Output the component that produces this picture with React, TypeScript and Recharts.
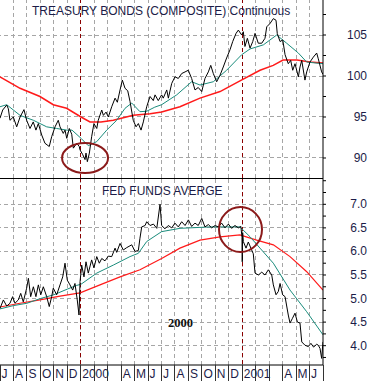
import React from 'react';
import { LineChart, Line, XAxis, YAxis, ReferenceLine, ReferenceDot } from 'recharts';

const INK = '#1c1c48';
const SANS = '"Liberation Sans", Arial, sans-serif';
const GRID = '#a6a6a6';

// month boundaries Jul 1999 .. Jun 2001, x = months since 1 Jul 1999
const monthTicks = [0, 1, 2, 3, 4, 5, 6, 7, 8, 9, 10, 11, 12, 13, 14, 15, 16, 17, 18, 19, 20, 21, 22, 23, 24];
const gridMonths = [1, 2, 3, 4, 5, 6, 7, 8, 9, 10, 11, 12, 13, 14, 15, 16, 17, 18, 19, 20, 21, 22, 23];
const monthLabels = ['J', 'A', 'S', 'O', 'N', 'D', '2000', '', '', 'A', 'M', 'J', 'J', 'A', 'S', 'O', 'N', 'D', '2001', '', '', 'A', 'M', 'J'];
const markerMonths = [6, 18];

const bondTicks = [90, 95, 100, 105];
const bondAxisTicks = [90, 92.5, 95, 97.5, 100, 102.5, 105, 107.5];
const fedTicks = [4.0, 4.5, 5.0, 5.5, 6.0, 6.5, 7.0];
const fedAxisTicks = [3.75, 4.0, 4.25, 4.5, 4.75, 5.0, 5.25, 5.5, 5.75, 6.0, 6.25, 6.5, 6.75, 7.0, 7.25, 7.5];

const bondPrice: [number, number][] = [
  [0, 94.85], [0.2, 95.85], [0.5, 96.46], [0.62, 96.0], [0.74, 94.6], [0.99, 95.0], [1.24, 93.8], [1.49, 95.0],
  [1.78, 95.9], [1.98, 94.6], [2.23, 93.6], [2.47, 94.4], [2.67, 93.4], [2.85, 94.2], [3.1, 92.8], [3.34, 91.8],
  [3.66, 91.4], [3.84, 92.6], [4.09, 93.8], [4.33, 94.6], [4.46, 93.8], [4.7, 93.0], [4.83, 93.4], [4.96, 92.4],
  [5.15, 93.6], [5.33, 92.9], [5.45, 91.2], [5.7, 91.8], [5.89, 91.4], [5.94, 91.0], [6.15, 90.4], [6.32, 89.8],
  [6.39, 90.6], [6.49, 89.55], [6.64, 90.6], [6.81, 92.6], [6.98, 94.2], [7.19, 93.6], [7.3, 94.6], [7.56, 95.85],
  [7.68, 95.2], [7.88, 95.6], [8.05, 95.0], [8.3, 96.25], [8.55, 97.3], [8.72, 96.8], [8.92, 98.3], [9.09, 99.5],
  [9.29, 98.5], [9.49, 98.2], [9.66, 96.9], [9.9, 94.6], [10.11, 93.8], [10.28, 94.2], [10.48, 93.4], [10.65, 94.4],
  [10.9, 96.25], [11.15, 97.5], [11.39, 97.0], [11.52, 97.7], [11.76, 97.0], [12.01, 97.7], [12.13, 97.3], [12.39, 98.3],
  [12.51, 97.3], [12.76, 99.1], [13.0, 99.9], [13.25, 99.7], [13.5, 100.3], [13.75, 100.5], [13.99, 100.7], [14.24, 99.7],
  [14.49, 98.3], [14.73, 98.6], [14.99, 98.1], [15.23, 99.7], [15.48, 100.5], [15.66, 101.3], [15.85, 100.3], [16.1, 99.3],
  [16.35, 100.1], [16.59, 101.1], [16.84, 102.2], [17.09, 103.2], [17.29, 104.2], [17.54, 105.2], [17.71, 105.6], [17.96, 105.0],
  [18.08, 105.4], [18.2, 103.6], [18.38, 104.6], [18.58, 103.4], [18.78, 104.2], [18.95, 105.2], [19.19, 104.0], [19.45, 104.0],
  [19.69, 104.6], [19.82, 106.0], [20.06, 106.4], [20.31, 107.0], [20.51, 106.8], [20.6, 105.2], [20.81, 104.2], [21.01, 104.4],
  [21.18, 102.6], [21.42, 101.5], [21.6, 101.9], [21.75, 100.7], [21.92, 101.5], [22.17, 99.9], [22.29, 101.1], [22.42, 101.9],
  [22.66, 99.5], [22.79, 100.5], [23.03, 101.7], [23.28, 102.3], [23.53, 102.8], [23.65, 102.1], [23.9, 100.5], [24, 100.2],
];

const bondShortAvg: [number, number][] = [
  [0, 96.25], [0.5, 96.5], [1.49, 95.2], [2.48, 94.6], [3.47, 93.8], [4.21, 93.6], [4.96, 93.4], [5.35, 93.4],
  [6.02, 92.4], [6.56, 91.5], [7.19, 92.0], [7.93, 93.4], [8.67, 94.6], [9.29, 96.06], [9.79, 96.7], [10.4, 95.65],
  [10.9, 95.7], [11.5, 96.2], [12.01, 96.5], [13.13, 97.7], [14.24, 99.3], [14.86, 98.9], [15.85, 99.3], [16.84, 100.7],
  [17.96, 102.6], [18.58, 103.3], [19.57, 103.8], [20.56, 105.0], [21.3, 104.0], [22.17, 102.8], [22.79, 101.7], [24, 101.5],
];

const bondLongAvg: [number, number][] = [
  [0, 99.9], [1.49, 98.5], [2.97, 97.5], [3.96, 96.5], [4.95, 96.06], [6.02, 95.0], [6.69, 94.4], [7.5, 94.4],
  [8.42, 94.6], [9.9, 95.2], [11.15, 95.4], [12.01, 95.6], [13.37, 96.26], [14.86, 97.3], [16.35, 98.1], [17.83, 99.4],
  [19.32, 100.7], [20.3, 101.3], [21.03, 101.95], [22.07, 101.95], [23.03, 101.7], [24, 101.6],
];

const fedRate: [number, number][] = [
  [0, 4.79], [0.25, 4.97], [0.5, 4.84], [0.74, 4.9], [0.94, 5.04], [1.11, 4.9], [1.36, 4.97], [1.54, 5.11],
  [1.73, 4.93], [1.98, 5.22], [2.11, 5.43], [2.28, 5.04], [2.48, 5.25], [2.67, 5.04], [2.85, 5.29], [3.03, 5.08],
  [3.22, 5.25], [3.47, 5.04], [3.66, 4.83], [3.84, 5.04], [3.96, 5.22], [4.21, 5.08], [4.46, 5.29], [4.66, 5.46],
  [4.83, 5.75], [5.0, 5.39], [5.2, 5.29], [5.4, 5.18], [5.57, 5.32], [5.74, 4.97], [5.87, 4.65], [5.95, 5.36],
  [6.07, 5.71], [6.24, 5.46], [6.39, 5.78], [6.56, 5.54], [6.81, 5.82], [6.98, 5.65], [7.19, 5.89], [7.38, 5.75],
  [7.56, 5.85], [7.8, 5.8], [8.05, 5.9], [8.3, 5.89], [8.55, 6.07], [8.67, 5.98], [8.92, 6.17], [9.16, 6.03],
  [9.41, 6.08], [9.79, 6.14], [10.03, 6.0], [10.28, 6.02], [10.4, 6.28], [10.53, 6.52], [10.78, 6.55], [10.9, 6.63],
  [11.15, 6.55], [11.4, 6.58], [11.65, 6.49], [11.89, 7.0], [12.01, 6.55], [12.26, 6.48], [12.5, 6.55], [12.76, 6.5],
  [13.0, 6.6], [13.25, 6.52], [13.5, 6.63], [13.75, 6.55], [14.0, 6.67], [14.24, 6.53], [14.49, 6.6], [14.73, 6.55],
  [14.99, 6.7], [15.23, 6.52], [15.48, 6.57], [15.73, 6.5], [15.98, 6.55], [16.22, 6.52], [16.47, 6.6], [16.72, 6.5],
  [16.97, 6.58], [17.21, 6.49], [17.46, 6.55], [17.71, 6.5], [17.9, 6.53], [17.98, 6.3], [18.0, 5.78], [18.03, 6.4],
  [18.08, 6.21], [18.28, 6.07], [18.45, 6.2], [18.7, 6.03], [18.82, 5.95], [18.95, 5.54], [19.2, 5.5], [19.45, 5.56],
  [19.69, 5.5], [19.94, 5.61], [20.19, 5.5], [20.31, 5.29], [20.51, 5.08], [20.68, 5.15], [20.81, 5.32], [21.0, 5.08],
  [21.18, 5.04], [21.42, 4.65], [21.55, 4.48], [21.73, 4.58], [21.92, 4.69], [22.1, 4.5], [22.29, 4.48], [22.42, 4.08],
  [22.66, 4.01], [22.91, 3.98], [23.1, 4.05], [23.3, 3.97], [23.53, 4.03], [23.65, 4.01], [23.78, 3.94], [23.9, 3.73],
  [24, 4.08],
];

const fedShortAvg: [number, number][] = [
  [0, 4.78], [1.0, 4.85], [2.0, 4.9], [3.0, 5.0], [4.0, 5.08], [5.0, 5.2], [5.7, 5.28], [6.0, 5.3],
  [7.19, 5.54], [8.42, 5.71], [9.66, 5.89], [10.28, 5.96], [10.9, 6.21], [12.01, 6.42], [13.37, 6.49], [15.6, 6.52],
  [17.83, 6.52], [18.58, 6.31], [19.32, 6.07], [20.31, 5.75], [21.55, 5.18], [22.79, 4.72], [24, 4.23],
];

const fedLongAvg: [number, number][] = [
  [0, 4.82], [1.49, 4.9], [2.97, 4.97], [4.46, 5.05], [5.95, 5.12], [7.43, 5.29], [8.92, 5.46], [10.4, 5.61],
  [12.01, 5.85], [13.37, 6.07], [14.86, 6.24], [16.35, 6.31], [17.83, 6.35], [19.07, 6.24], [20.31, 6.14], [21.55, 5.89],
  [22.79, 5.57], [24, 5.18],
];

const toPts = (arr: [number, number][]) => arr.map(([m, v]) => ({ m, v }));

const AXIS_W = 48;
const TOP_H = 178;
const BOT_H = 203;
const W = 371;
const bondDomain = [87.56, 109.27];
const fedDomain = [3.59, 7.558];

const makeValueTick = (majors: number[], fmt: (v: number) => string) => (props: any) => {
  const { y, payload } = props;
  if (!majors.includes(payload.value)) return <g />;
  return (
    <text x={W - 4} y={y + 4} textAnchor="end" fill={INK} fontSize={12} fontFamily={SANS}>
      {fmt(payload.value)}
    </text>
  );
};

const MonthTick = (props: any) => {
  const { x, y, payload } = props;
  const label = monthLabels[payload.value] ?? '';
  return (
    <g>
      <line x1={x} y1={y} x2={x} y2={y + 16} stroke="#333" shapeRendering="crispEdges" />
      <text x={x + 1.5} y={y + 13} fill={INK} fontSize={12} fontFamily={SANS}>{label}</text>
    </g>
  );
};

const ring = (rx: number, ry: number) => (props: any) => (
  <ellipse cx={props.cx} cy={props.cy} rx={rx} ry={ry} fill="none" stroke="#8b1a1a" strokeWidth={2} />
);

const gridLines = (yValues: number[]) => [
  ...gridMonths.map((m) => (
    <ReferenceLine key={`gx${m}`} x={m} stroke={GRID} strokeDasharray="4 3" shapeRendering="crispEdges" />
  )),
  ...yValues.map((v) => (
    <ReferenceLine key={`gy${v}`} y={v} stroke={GRID} strokeDasharray="4 3" shapeRendering="crispEdges" />
  )),
];

const seriesProps = { dataKey: 'v', dot: false, activeDot: false, isAnimationActive: false } as const;

export default function App() {
  return (
    <div style={{ position: 'absolute', left: 0, top: 0, width: W, height: TOP_H + BOT_H, background: '#fff' }}>
      <div style={{ position: 'absolute', left: 0, top: 0 }}>
        <LineChart width={W} height={TOP_H} margin={{ top: 0, right: 0, bottom: 0, left: 0 }}>
          <XAxis dataKey="m" type="number" domain={[0, 24]} hide allowDataOverflow />
          <YAxis
            orientation="right"
            type="number"
            domain={bondDomain}
            ticks={bondAxisTicks}
            interval={0}
            width={AXIS_W}
            tickSize={3}
            axisLine={{ stroke: '#000' }}
            tickLine={{ stroke: '#000' }}
            tick={makeValueTick(bondTicks, (v) => String(v))}
            allowDataOverflow
          />
          {gridLines(bondTicks)}
          {markerMonths.map((m) => (
            <ReferenceLine key={m} x={m} stroke="#8b0000" strokeDasharray="4 3" shapeRendering="crispEdges" />
          ))}
          <Line data={toPts(bondLongAvg)} stroke="#ff1a1a" strokeWidth={1.5} {...seriesProps} />
          <Line data={toPts(bondShortAvg)} stroke="#1a8c7c" strokeWidth={1} {...seriesProps} />
          <Line data={toPts(bondPrice)} stroke="#000" strokeWidth={1} {...seriesProps} />
          <ReferenceDot x={6.32} y={90.0} r={20} shape={ring(23, 15)} ifOverflow="visible" />
        </LineChart>
      </div>
      <div style={{ position: 'absolute', left: 0, top: TOP_H }}>
        <LineChart width={W} height={BOT_H} margin={{ top: 0, right: 0, bottom: 0, left: 0 }}>
          <XAxis
            dataKey="m"
            type="number"
            domain={[0, 24]}
            ticks={monthTicks}
            interval={0}
            height={16}
            tickSize={0}
            tickMargin={0}
            tickLine={false}
            axisLine={{ stroke: '#000' }}
            tick={MonthTick}
            allowDataOverflow
          />
          <YAxis
            orientation="right"
            type="number"
            domain={fedDomain}
            ticks={fedAxisTicks}
            interval={0}
            width={AXIS_W}
            tickSize={3}
            axisLine={{ stroke: '#000' }}
            tickLine={{ stroke: '#000' }}
            tick={makeValueTick(fedTicks, (v) => v.toFixed(1))}
            allowDataOverflow
          />
          {gridLines(fedTicks)}
          {markerMonths.map((m) => (
            <ReferenceLine
              key={m}
              segment={[{ x: m, y: fedDomain[1] }, { x: m, y: 3.25 }]}
              stroke="#8b0000"
              strokeDasharray="4 3"
              shapeRendering="crispEdges"
              ifOverflow="visible"
            />
          ))}
          <Line data={toPts(fedLongAvg)} stroke="#ff1a1a" strokeWidth={1.2} {...seriesProps} />
          <Line data={toPts(fedShortAvg)} stroke="#1a8c7c" strokeWidth={1} {...seriesProps} />
          <Line data={toPts(fedRate)} stroke="#000" strokeWidth={1} {...seriesProps} />
          <ReferenceDot x={17.87} y={6.465} r={20} shape={ring(21.5, 22.5)} ifOverflow="visible" />
        </LineChart>
      </div>
      <svg width={W} height={TOP_H + BOT_H} style={{ position: 'absolute', left: 0, top: 0, pointerEvents: 'none' }}>
        <line x1={0} y1={TOP_H + 0.5} x2={W - AXIS_W} y2={TOP_H + 0.5} stroke="#000" />
        <text x={32} y={15} fill={INK} fontSize={12} fontFamily={SANS}>TREASURY BONDS (COMPOSITE) Continuous</text>
        <text x={102} y={194.5} fill={INK} fontSize={12} fontFamily={SANS}>FED FUNDS AVERGE</text>
        <text x={168} y={327} fill="#111" fontSize={12.5} fontWeight="bold" fontFamily='"Liberation Serif", "Times New Roman", serif'>2000</text>
      </svg>
    </div>
  );
}
